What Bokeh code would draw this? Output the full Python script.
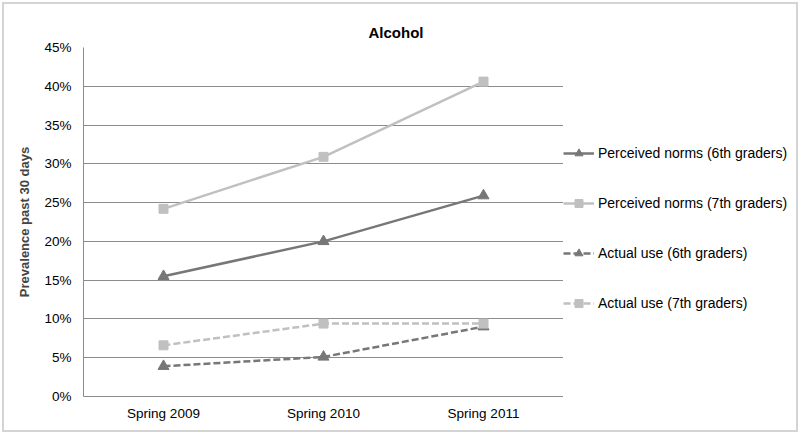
from bokeh.plotting import figure
from bokeh.layouts import row
from bokeh.models import (FixedTicker, PrintfTickFormatter, Legend, LegendItem, Range1d)
from bokeh.embed import file_html
from bokeh.resources import INLINE

periods = ["Spring 2009", "Spring 2010", "Spring 2011"]
perceived_6th = [15.5, 20.0, 25.9]
perceived_7th = [24.2, 30.9, 40.6]
actual_6th = [3.9, 5.1, 9.0]
actual_7th = [6.6, 9.4, 9.4]
y_ticks = [0, 5, 10, 15, 20, 25, 30, 35, 40, 45]

FONT = "Liberation Sans"
DARK = "#777777"
LIGHT = "#c0c0c0"

p = figure(x_range=periods, y_range=Range1d(0, 45), width=563, height=434,
           output_backend="svg", toolbar_location=None,
           min_border_left=83, min_border_right=0, min_border_top=47, min_border_bottom=38)
p.border_fill_color = None

p.title.text = "Alcohol"
p.title.text_font = FONT
p.title.text_font_size = "15px"
p.title.text_font_style = "bold"
p.title.align = "left"
p.title.offset = 285
p.title.standoff = 14
p.title.text_color = "#000000"

p.outline_line_color = None
p.xgrid.grid_line_color = None
p.ygrid.grid_line_color = "#8c8c8c"
p.ygrid.grid_line_width = 1

p.yaxis.ticker = FixedTicker(ticks=y_ticks)
p.yaxis.formatter = PrintfTickFormatter(format="%d%%")
p.yaxis.axis_label = "Prevalence past 30 days"
p.yaxis.axis_label_text_font = FONT
p.yaxis.axis_label_text_font_size = "13px"
p.yaxis.axis_label_text_font_style = "bold"
p.yaxis.axis_label_standoff = 9
for ax in (p.xaxis[0], p.yaxis[0]):
    ax.major_label_text_font = FONT
    ax.major_label_text_font_size = "13.5px"
    ax.major_label_text_color = "#000000"
    ax.axis_line_color = "#8c8c8c"
    ax.major_tick_line_color = None
    ax.minor_tick_line_color = None
    ax.major_tick_out = 0
    ax.major_tick_in = 0
p.xaxis.major_label_standoff = 9
p.yaxis.major_label_standoff = 12

# separate legend panel (a frameless figure whose data lie outside its view)
lf = figure(x_range=periods, y_range=Range1d(1000, 1001), width=237, height=434,
            output_backend="svg", toolbar_location=None,
            x_axis_location=None, y_axis_location=None,
            min_border_left=0, min_border_right=0, min_border_top=0, min_border_bottom=0)
lf.border_fill_color = None
lf.background_fill_color = None
lf.outline_line_color = None
lf.xgrid.visible = False
lf.ygrid.visible = False

series = [
    ("Perceived norms (6th graders)", perceived_6th, DARK, "solid", "triangle", 11),
    ("Perceived norms (7th graders)", perceived_7th, LIGHT, "solid", "square", 9),
    ("Actual use (6th graders)", actual_6th, DARK, "7 3", "triangle", 11),
    ("Actual use (7th graders)", actual_7th, LIGHT, "7 3", "square", 9),
]

items = []
for label, vals, color, dash, marker, size in series:
    p.line(periods, vals, line_color=color, line_width=2.5, line_dash=dash)
    p.scatter(periods, vals, marker=marker, size=size, fill_color=color, line_color=color)
    r1 = lf.line(periods, vals, line_color=color, line_width=2.5, line_dash=dash)
    r2 = lf.scatter(periods, vals, marker=marker, size=size, fill_color=color,
                    line_color=color)
    items.append(LegendItem(label=label, renderers=[r1, r2]))

legend = Legend(items=items, location=(0, 83), orientation="vertical",
                label_text_font=FONT, label_text_font_size="14px",
                label_text_color="#000000",
                glyph_width=31, glyph_height=20, label_height=20, spacing=30,
                label_standoff=4, padding=0, margin=0,
                border_line_color=None, background_fill_alpha=0)
lf.add_layout(legend, "center")

layout = row(p, lf, spacing=0)
layout.styles = {"outline": "2px solid #d4d4d4", "outline-offset": "-4px",
                 "background-color": "#ffffff"}

open("out.html", "w").write(file_html(layout, INLINE))
